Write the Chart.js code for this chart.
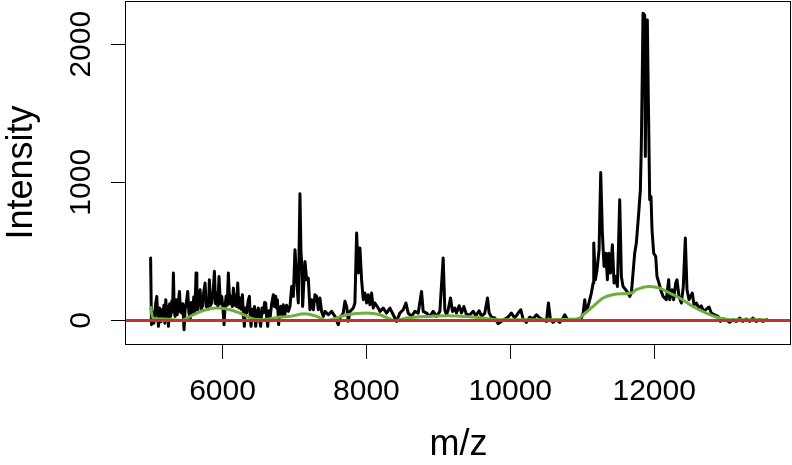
<!DOCTYPE html>
<html>
<head>
<meta charset="utf-8">
<script src="https://cdn.jsdelivr.net/npm/chart.js@4.4.1/dist/chart.umd.min.js"></script>
<style>
  html, body { margin: 0; padding: 0; background: #fff; }
</style>
</head>
<body>
<canvas id="myChart" width="792" height="465"></canvas>
<script>
// spectrum (m/z, intensity)
const mz = [
  5000, 5012, 5030, 5045, 5053, 5070, 5086, 5098, 5109, 5125,
  5140, 5155, 5170, 5185, 5198, 5211, 5225, 5237, 5248, 5265,
  5280, 5295, 5305, 5317, 5328, 5340, 5355, 5370, 5385, 5401,
  5417, 5433, 5448, 5465, 5480, 5500, 5516, 5532, 5549, 5565,
  5586, 5600, 5615, 5632, 5643, 5655, 5670, 5688, 5704, 5720,
  5738, 5757, 5773, 5789, 5803, 5817, 5833, 5850, 5868, 5887,
  5903, 5919, 5935, 5951, 5970, 5989, 6005, 6021, 6035, 6049,
  6065, 6081, 6100, 6118, 6135, 6151, 6167, 6183, 6197, 6211,
  6227, 6243, 6260, 6276, 6290, 6303, 6320, 6336, 6355, 6373,
  6385, 6396, 6412, 6428, 6445, 6461, 6480, 6498, 6515, 6530,
  6548, 6567, 6585, 6600, 6614, 6628, 6645, 6660, 6683, 6706,
  6722, 6739, 6750, 6762, 6780, 6795, 6810, 6828, 6845, 6858,
  6868, 6890, 6914, 6938, 6961, 6984,
  7007, 7030, 7053, 7076, 7090, 7100, 7113, 7146, 7169, 7192,
  7215, 7238, 7262, 7285, 7308, 7331, 7354, 7377, 7400, 7424,
  7470, 7516, 7563, 7609, 7632, 7678, 7701, 7725, 7748, 7771,
  7817, 7840, 7864, 7887, 7910, 7933, 7956, 7979, 8002, 8025,
  8049, 8072, 8095, 8118, 8164, 8188, 8234, 8280, 8327, 8373,
  8419, 8465, 8512, 8549, 8581, 8627, 8674, 8720, 8766, 8789,
  8836, 8882, 8928, 8975, 9021, 9067, 9090, 9113, 9137, 9169,
  9197, 9229, 9252, 9289, 9322, 9354, 9391, 9438, 9484, 9521,
  9567, 9600, 9646, 9683, 9706, 9738, 9785, 9831, 9877, 9924,
  9970, 10016, 10063, 10109, 10146, 10178, 10225, 10271, 10317, 10364,
  10410, 10456, 10502, 10530, 10558, 10595, 10641, 10688, 10734, 10757,
  10803, 10850, 10896, 10942, 10989, 11012, 11035, 11049, 11081, 11127,
  11151, 11160, 11183, 11206, 11234, 11257, 11280, 11303, 11327, 11350,
  11368, 11391, 11419, 11442, 11465, 11489, 11521, 11544, 11567, 11604,
  11637, 11660, 11683, 11729, 11752, 11785, 11808, 11822, 11836, 11845,
  11868, 11877, 11891, 11905, 11919, 11938, 11956, 11970, 11993, 12021,
  12039, 12067, 12090, 12123, 12169, 12202, 12216, 12248, 12271, 12299,
  12317, 12345, 12378, 12405, 12433, 12456, 12484, 12530, 12553, 12586,
  12623, 12655, 12688, 12725, 12762, 12794, 12840, 12887, 12919, 12956,
  13002, 13049, 13095, 13141, 13188, 13234, 13280, 13327, 13373, 13419,
  13465, 13512, 13567,
];
const intensity = [
  451, -31, 60, -20, 29, 120, 174, 40, -43, 90,
  -10, 77, 20, 110, -20, 150, 40, 100, -43, 120,
  30, 140, 60, 343, 80, 29, 150, 40, 130, 210,
  60, 53, 120, -67, 80, 140, 210, 60, 5, 130,
  53, 170, 60, 343, 100, 77, 180, 222, 80, 102,
  200, 270, 100, 150, 80, 294, 110, 126, 200, 355,
  120, 198, 100, 318, 120, 174, 90, -31, 100, 174,
  110, 343, 120, 174, 100, 234, 110, 186, 100, 270,
  90, 162, 80, 186, 40, -43, 90, 53, 140, 174,
  30, -43, 80, 29, 100, -43, 60, 89, 10, -43,
  90, 53, 130, 126, 20, -43, 70, 17, 120, 186,
  100, 174, 90, 150, -31, 80, 102, 40, 113, 40,
  53, 110, 65, 102, 246, 174,
  512, 294, 126, 917, 500, 415, 101, 427, 294, 306,
  77, 150, 77, 186, 174, 77, 162, 65, 29, 65,
  41, 65, 29, -31, 17, 53, 138, 101, -7, 65,
  89, 126, 632, 343, 524, 294, 150, 198, 126, 186,
  113, 198, 89, 126, 89, 65, 89, 53, 89, 41,
  -7, 53, 77, 126, 53, 29, 65, 53, 210, 65,
  53, 29, 65, 29, 65, 451, 77, 41, 77, 162,
  65, 89, 53, 106, 53, 101, 41, 41, 65, 34,
  70, 29, 53, 162, 53, 24, 17, -24, -7, 10,
  24, 53, 17, 53, 77, 10, -14, 24, 10, 41,
  17, 5, -7, 126, 5, -14, 5, -14, 17, 41,
  0, 5, 0, 10, 17, 53, 150, 60, 101, 198,
  270, 560, 294, 367, 511, 1071, 632, 391, 487, 294,
  487, 343, 548, 270, 318, 246, 873, 318, 246, 222,
  198, 174, 198, 487, 560, 777, 946, 1283, 1838, 2224,
  2212, 1187, 2176, 2176, 1597, 873, 897, 656, 487, 463,
  318, 270, 222, 174, 150, 294, 150, 222, 150, 270,
  294, 174, 126, 246, 596, 222, 150, 198, 114, 126,
  89, 106, 65, 82, 97, 53, 41, 29, -7, 12,
  5, -14, 5, -7, 17, -7, 10, -7, 17, -7,
  5, -7, 5,
];
// fitted baseline
const baselineMz = [
  5000, 5030, 5200, 5420, 5595, 5734, 5919, 6058, 6243, 6428,
  6567, 6799, 6938, 7146, 7308, 7447, 7725, 8002, 8188, 8396,
  8558, 8836, 9137, 9484, 9854, 10410, 10942, 11012, 11151, 11289,
  11428, 11567, 11683, 11752, 11938, 12077, 12215, 12354, 12539, 12725,
  12910, 13049, 13567,
];
const baselineIntensity = [
  102, 17, 10, 0, 41, 72, 89, 82, 53, 10,
  5, 24, 29, 48, 29, 0, 41, 53, 41, 0,
  17, 29, 34, 24, 5, 5, 10, 41, 101, 162,
  186, 193, 198, 222, 246, 234, 198, 162, 101, 53,
  17, 5, 5,
];
const xTicks = [6000, 8000, 10000, 12000];
const yTicks = [0, 1000, 2000];
const xRange = [4658, 13902];
const yRange = [-171, 2313];

const FONT = '"Liberation Sans", Arial, Helvetica, sans-serif';

const toPoints = (xs, ys) => xs.map((x, i) => ({ x, y: ys[i] }));

// box round the plot + rotated y labels, the way R draws them
const rAxisExtras = {
  id: 'rAxisExtras',
  afterDraw(chart) {
    const { ctx, chartArea } = chart;
    const yScale = chart.scales.y;
    ctx.save();
    ctx.strokeStyle = '#000';
    ctx.lineWidth = 1;
    ctx.strokeRect(chartArea.left - 0.5, chartArea.top + 0.5,
      chartArea.right - chartArea.left, chartArea.bottom - chartArea.top);
    ctx.font = `30px ${FONT}`;
    ctx.fillStyle = '#000';
    ctx.textAlign = 'center';
    ctx.textBaseline = 'alphabetic';
    yTicks.forEach((v) => {
      const py = yScale.getPixelForValue(v);
      ctx.save();
      ctx.translate(90, py);
      ctx.rotate(-Math.PI / 2);
      ctx.fillText(String(v), 0, 0);
      ctx.restore();
    });
    ctx.restore();
  },
};

const ctx = document.getElementById('myChart').getContext('2d');
const myChart = new Chart(ctx, {
  type: 'line',
  data: {
    datasets: [
      {
        data: toPoints(mz, intensity),
        borderColor: '#000',
        borderWidth: 3,
        pointRadius: 0,
        tension: 0,
        borderJoinStyle: 'round',
        borderCapStyle: 'round',
        order: 3,
      },
      {
        data: toPoints(baselineMz, baselineIntensity),
        borderColor: '#6caf3a',
        borderWidth: 3,
        pointRadius: 0,
        cubicInterpolationMode: 'monotone',
        order: 2,
      },
      {
        data: toPoints(xRange, [0, 0]),
        borderColor: '#c8302a',
        borderWidth: 3,
        pointRadius: 0,
        order: 1,
      },
    ],
  },
  options: {
    responsive: false,
    animation: false,
    layout: { padding: { left: 0, right: 1, top: 1, bottom: 0 } },
    plugins: { legend: { display: false }, tooltip: { enabled: false } },
    scales: {
      x: {
        type: 'linear',
        min: xRange[0],
        max: xRange[1],
        afterBuildTicks: (s) => { s.ticks = xTicks.map((v) => ({ value: v })); },
        afterFit: (s) => { s.height = 121; },
        grid: { drawOnChartArea: false, drawTicks: true, tickLength: 15, color: '#000', lineWidth: 1 },
        border: { display: false },
        ticks: {
          color: '#000', font: { family: FONT, size: 30 }, padding: 15,
          maxRotation: 0, autoSkip: false,
          callback: (v) => String(v),
        },
        title: {
          display: true, text: 'm/z', color: '#000',
          font: { family: FONT, size: 36, lineHeight: 1 },
          padding: { top: 0, bottom: 1.5 },
        },
      },
      y: {
        type: 'linear',
        min: yRange[0],
        max: yRange[1],
        afterBuildTicks: (s) => { s.ticks = yTicks.map((v) => ({ value: v })); },
        afterFit: (s) => { s.width = 126; },
        grid: { drawOnChartArea: false, drawTicks: true, tickLength: 15, color: '#000', lineWidth: 1 },
        border: { display: false },
        ticks: { display: false },
        title: {
          display: true, text: 'Intensity', color: '#000',
          font: { family: FONT, size: 36, lineHeight: 1.2 },
          padding: 0,
        },
      },
    },
  },
  plugins: [rAxisExtras],
});
</script>
</body>
</html>
